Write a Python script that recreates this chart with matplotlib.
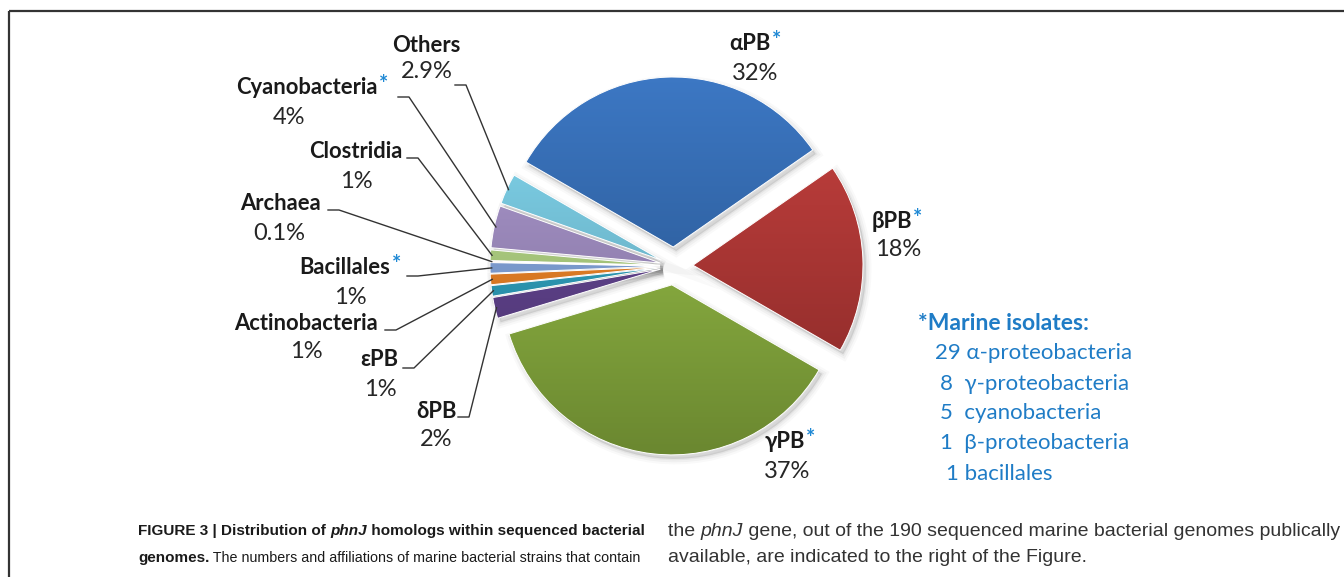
import numpy as np
import matplotlib.pyplot as plt
from matplotlib.colors import LinearSegmentedColormap, to_rgb
from matplotlib.patches import Wedge

W, H = 1344, 577

# data
names = ['αPB', 'βPB', 'γPB', 'δPB', 'εPB', 'Actinobacteria', 'Bacillales',
         'Archaea', 'Clostridia', 'Cyanobacteria', 'Others']
shares = [32, 18, 37, 2, 1, 1, 1, 0.1, 1, 4, 2.9]
pct_labels = ['32%', '18%', '37%', '2%', '1%', '1%', '1%', '0.1%', '1%', '4%', '2.9%']
marine = [True, True, True, False, False, False, True, False, False, True, False]
isolate_counts = ['29', '8', '5', '1', '1']
isolate_groups = ['α-proteobacteria', 'γ-proteobacteria', 'cyanobacteria',
                  'β-proteobacteria', 'bacillales']

colors = ['#2f64a8', '#a93331', '#85a93c', '#5b3e87', '#2a97b3', '#e37b22',
          '#7b9bd0', '#d9787a', '#a6c67a', '#9684b6', '#6fbcd2']
# pie() offsets wedges in data units, radius is 170 px
explode = [19, 19, 19] + [14] * 8

# label layout (pixels from top-left)
name_xy = [(750, 44), (892, 222), (785, 442), (436, 411), (379, 360), (306, 323),
           (345, 268), (281, 204), (356, 152), (307, 88), (426, 45)]
pct_xy = [(755, 73), (898, 250), (787, 471), (436, 439), (380, 389), (306, 352),
          (350, 297), (279, 233), (356, 181), (289, 117), (427, 72)]
elbow_xy = {3: (458, 417), 4: (403, 368), 5: (385, 330), 6: (407, 276),
            7: (328, 210), 8: (407, 158), 9: (398, 97), 10: (455, 85)}

lab_font = ['Lato', 'DejaVu Sans']
cap_font = ['Liberation Sans', 'DejaVu Sans']
star_col = '#1e88d4'
blue_txt = '#1f7cc6'


def Y(y):
    return H - y


fig = plt.figure(figsize=(W / 100, H / 100), dpi=100)
ax = fig.add_axes([0, 0, 1, 1])

wedges, _ = ax.pie(shares, colors=colors, explode=explode, startangle=150,
                   counterclock=False, radius=170, center=(674, Y(266)),
                   wedgeprops=dict(edgecolor='white', linewidth=0.7))
ax.set_xlim(0, W)
ax.set_ylim(0, H)
ax.set_aspect('auto')
ax.axis('off')

# soft shadow + vertical gradient for each slice
for w, c in zip(wedges, colors):
    cx, cy = w.center
    for lw, a in [(8, 0.025), (5, 0.035), (2, 0.045)]:
        sh = Wedge((cx + 3, cy - 4), w.r, w.theta1, w.theta2, facecolor=(0, 0, 0, a),
                   edgecolor=(0, 0, 0, a), linewidth=lw, zorder=0.5)
        ax.add_patch(sh)
    base = np.array(to_rgb(c))
    top = np.clip(base * 1.12 + 0.03, 0, 1)
    bot = base * 0.8
    cmap = LinearSegmentedColormap.from_list('g', [bot, top])
    grad = np.linspace(0, 1, 256).reshape(-1, 1)
    im = ax.imshow(grad, extent=(cx - w.r, cx + w.r, cy - w.r, cy + w.r), origin='lower',
                   cmap=cmap, aspect='auto', zorder=1, interpolation='bilinear')
    im.set_clip_path(w)
    w.set_facecolor('none')
    w.set_zorder(2)

ax.set_xlim(0, W)
ax.set_ylim(0, H)

fig.canvas.draw()
rend = fig.canvas.get_renderer()

# labels
for i, n in enumerate(names):
    x, y = name_xy[i]
    t = ax.text(x, Y(y), n, ha='center', va='center', fontsize=15.8, weight='bold',
                family=lab_font, color='#1a1a1a', zorder=5)
    if marine[i]:
        bb = t.get_window_extent(renderer=rend)
        ax.text(bb.x1 + 1, Y(y) + 3, '*', ha='left', va='center', fontsize=15.8,
                weight='bold', family=lab_font, color=star_col, zorder=5)
    px, py = pct_xy[i]
    ax.text(px, Y(py), pct_labels[i], ha='center', va='center', fontsize=17,
            family=lab_font, color='#262626', zorder=5)

# leader lines to small slices
for i, (ex, ey) in elbow_xy.items():
    w = wedges[i]
    mid = np.deg2rad((w.theta1 + w.theta2) / 2)
    tx = w.center[0] + w.r * 0.99 * np.cos(mid)
    ty = w.center[1] + w.r * 0.99 * np.sin(mid)
    ax.plot([ex, ex + 11, tx], [Y(ey), Y(ey), ty], color='#333333', lw=1, zorder=4)

# marine isolates box
ax.text(918, Y(323), '*Marine isolates:', ha='left', va='center', fontsize=16.5,
        weight='bold', family=lab_font, color=blue_txt)
iso_x = [935, 940, 940, 940, 946]
iso_y = [353, 384, 413, 443, 474]
for cnt, grp, x, y in zip(isolate_counts, isolate_groups, iso_x, iso_y):
    gap = ' ' if len(cnt) > 1 or grp == 'bacillales' else '  '
    ax.text(x, Y(y), cnt + gap + grp, ha='left', va='center', fontsize=16,
            family=lab_font, color=blue_txt)

# frame lines
ax.plot([9, W], [Y(11), Y(11)], color='#333333', lw=1.6, solid_capstyle='butt')
ax.plot([9, 9], [Y(11), 0], color='#333333', lw=1.6, solid_capstyle='butt')


# caption
def draw_runs(x, y, runs, color):
    for s, weight, style, size in runs:
        t = ax.text(x, Y(y), s, fontsize=size, weight=weight, style=style,
                    family=cap_font, va='center', ha='left', color=color)
        x += t.get_window_extent(renderer=rend).width


draw_runs(138, 531, [('FIGURE 3 | Distribution of ', 'bold', 'normal', 11),
                     ('phnJ', 'bold', 'italic', 11),
                     (' homologs within sequenced bacterial', 'bold', 'normal', 11)],
          '#1a1a1a')
draw_runs(138, 558, [('genomes.', 'bold', 'normal', 11),
                     (' The numbers and affiliations of marine bacterial strains that contain',
                      'normal', 'normal', 10.3)], '#1a1a1a')
draw_runs(668, 531, [('the ', 'normal', 'normal', 14), ('phnJ', 'normal', 'italic', 14),
                     (' gene, out of the 190 sequenced marine bacterial genomes publically',
                      'normal', 'normal', 14)], '#333333')
draw_runs(668, 558, [('available, are indicated to the right of the Figure.',
                      'normal', 'normal', 14)], '#333333')

fig.savefig('out.png', dpi=100, facecolor='white')
